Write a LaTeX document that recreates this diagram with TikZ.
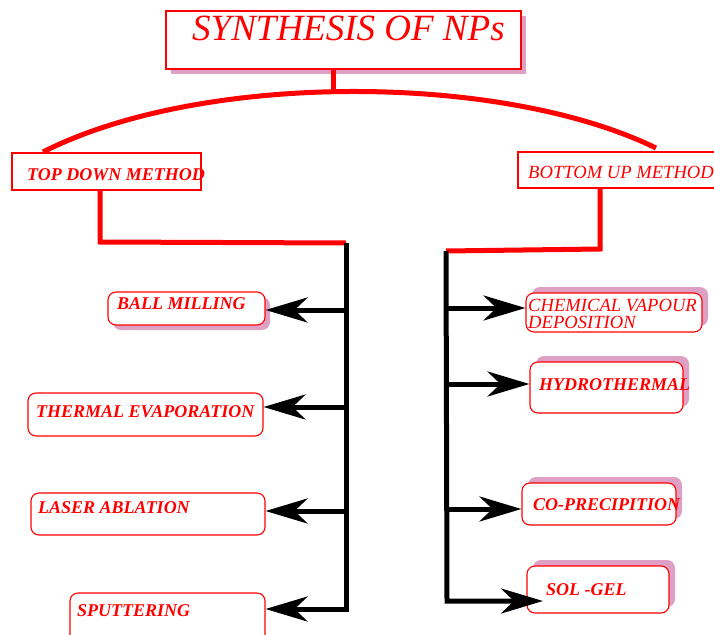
\documentclass[tikz,border=0pt]{standalone}
\usepackage{fontspec}
\setmainfont{Liberation Serif}
\usetikzlibrary{arrows.meta,shadows}
\definecolor{shpink}{RGB}{222,160,196}
\definecolor{pred}{RGB}{255,0,0}
\tikzset{
 redbox/.style={draw=pred, line width=1.1pt, fill=white, inner sep=0pt},
 rbox/.style={redbox, rounded corners=8pt},
 shdown/.style={general shadow={fill=shpink, shadow xshift=5pt, shadow yshift=-5pt}},
 shup/.style={general shadow={fill=shpink, shadow xshift=6pt, shadow yshift=6pt}},
 redline/.style={draw=pred, line width=5pt},
 trunk/.style={draw=black, line width=5pt},
 arr/.style={draw=black, line width=5pt, -{Stealth[length=42pt,width=25pt,inset=13pt]}},
 lbl/.style={text=pred, inner sep=0pt, anchor=base west, font=\fontsize{18}{18}\selectfont\bfseries\itshape},
 lbln/.style={text=pred, inner sep=0pt, anchor=base west, font=\fontsize{18.6}{18}\selectfont\itshape},
}
\begin{document}
\begin{tikzpicture}[x=1pt,y=-1pt]
\clip (0,0) rectangle (714,634);
\fill[white] (0,0) rectangle (714,634);
% boxes
\node[redbox, shdown, minimum width=355pt, minimum height=58pt] (title) at (343.5,40) {};
\node[redbox, minimum width=189pt, minimum height=37pt] (td) at (106.5,171.5) {};
\node[redbox, minimum width=202pt, minimum height=36pt] (bu) at (619,170) {};
\node[rbox, shdown, minimum width=157pt, minimum height=33pt] (bm) at (186.5,308.5) {};
\node[rbox, minimum width=235pt, minimum height=43pt] (te) at (145.5,414.5) {};
\node[rbox, minimum width=234pt, minimum height=42pt] (la) at (148,514) {};
\node[rbox, minimum width=195pt, minimum height=52pt] (sp) at (167.5,619) {};
\node[rbox, shup, minimum width=176pt, minimum height=39pt] (cvd) at (614,312.5) {};
\node[rbox, shup, minimum width=153pt, minimum height=51pt] (hy) at (606.5,387.5) {};
\node[rbox, shup, minimum width=154pt, minimum height=42pt] (co) at (599,504) {};
\node[rbox, shup, minimum width=142pt, minimum height=47pt] (sg) at (598,589.5) {};
% coordinates
\coordinate (tj) at (333,69);
\coordinate (ta) at (333,93);
\coordinate (arcL) at (43,152);
\coordinate (arcR) at (656,148);
\coordinate (tdj) at (100,190);
\coordinate (tdc) at (100,242);
\coordinate (ltop) at (346,243);
\coordinate (lbot) at (346,609);
\coordinate (buj) at (600,188);
\coordinate (buc) at (600,249);
\coordinate (rtop) at (446,251);
\coordinate (rbot) at (447,601);
\coordinate (sgtip) at (543,601);
\coordinate (l1) at (346,310);
\coordinate (l2) at (346,407);
\coordinate (l3) at (346,511);
\coordinate (r1) at (446,308);
\coordinate (r2) at (446,384);
\coordinate (r3) at (447,509);
% red connectors
\draw[redline] (tj) -- (ta);
\draw[redline] (arcL) .. controls (200,72) and (500,72) .. (arcR);
\draw[redline] (tdj) -- (tdc) -- (ltop);
\draw[redline] (buj) -- (buc) -- (rtop);
% black trunks and arrows
\draw[arr] (ltop) -- (lbot) -- (lbot -| sp.east);
\draw[arr] (l1) -- (l1 -| bm.east);
\draw[arr] (l2) -- (l2 -| te.east);
\draw[arr] (l3) -- (l3 -| la.east);
\draw[arr] (rtop) -- (rbot) -- (sgtip);
\draw[arr] (r1) -- (r1 -| cvd.west);
\draw[arr] (r2) -- (r2 -| hy.west);
\draw[arr] (r3) -- (r3 -| co.west);
% texts
\node[text=pred, inner sep=0pt, anchor=base west, font=\fontsize{37}{37}\selectfont\itshape] (tt) at (192,41) {SYNTHESIS OF NPs};
\node[lbl] (tdt) at (27,180) {TOP DOWN METHOD};
\node[lbln] (but) at (528,178) {BOTTOM UP METHOD};
\node[lbl] (bmt) at (117,309) {BALL MILLING};
\node[lbl] (tet) at (36,417) {THERMAL EVAPORATION};
\node[lbl] (lat) at (38,513) {LASER ABLATION};
\node[lbl] (spt) at (77,616) {SPUTTERING};
\node[lbln] (cvdt1) at (528,311) {CHEMICAL VAPOUR};
\node[lbln] (cvdt2) at (528,328) {DEPOSITION};
\node[lbl] (hyt) at (539,390) {HYDROTHERMAL};
\node[lbl] (cot) at (533,510) {CO-PRECIPITION};
\node[lbl] (sgt) at (546,595) {SOL -GEL};
\end{tikzpicture}
\end{document}
